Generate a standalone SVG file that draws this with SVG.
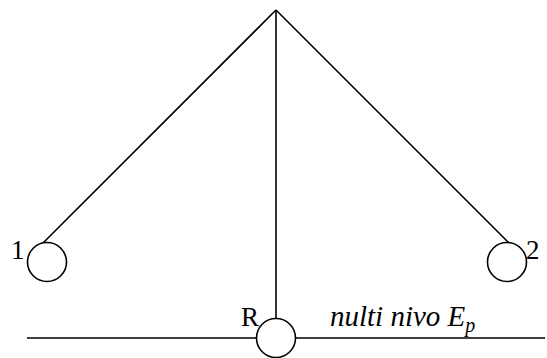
<svg xmlns="http://www.w3.org/2000/svg" width="547" height="358" viewBox="0 0 547 358">
<style>
.ln{stroke:#000;stroke-width:1.6;fill:none}
.nd{stroke:#000;stroke-width:1.6;fill:#fff}
.t{font-family:"Liberation Serif","Times New Roman",serif;font-size:27px;fill:#000}
.it{font-style:italic;font-size:29px}
</style>
<rect width="547" height="358" fill="#fff"/>
<g id="connectors">
<line class="ln" x1="276" y1="10" x2="43" y2="243"/>
<line class="ln" x1="276" y1="10" x2="509" y2="243"/>
<line class="ln" x1="276" y1="10" x2="276" y2="318"/>
<line class="ln" x1="27" y1="338" x2="257" y2="338"/>
<line class="ln" x1="295" y1="338" x2="545" y2="338"/>
</g>
<g id="node1">
<circle class="nd" cx="47" cy="262" r="19.5"/>
<text class="t" x="11" y="259">1</text>
</g>
<g id="node2">
<circle class="nd" cx="507" cy="262" r="19.5"/>
<text class="t" x="526" y="259">2</text>
</g>
<g id="nodeR">
<circle class="nd" cx="276" cy="338" r="19.5"/>
<text class="t" x="241" y="326">R</text>
</g>
<g id="label">
<text class="t it" x="330" y="326">nulti nivo E<tspan font-size="20" dy="6">p</tspan></text>
</g>
</svg>
